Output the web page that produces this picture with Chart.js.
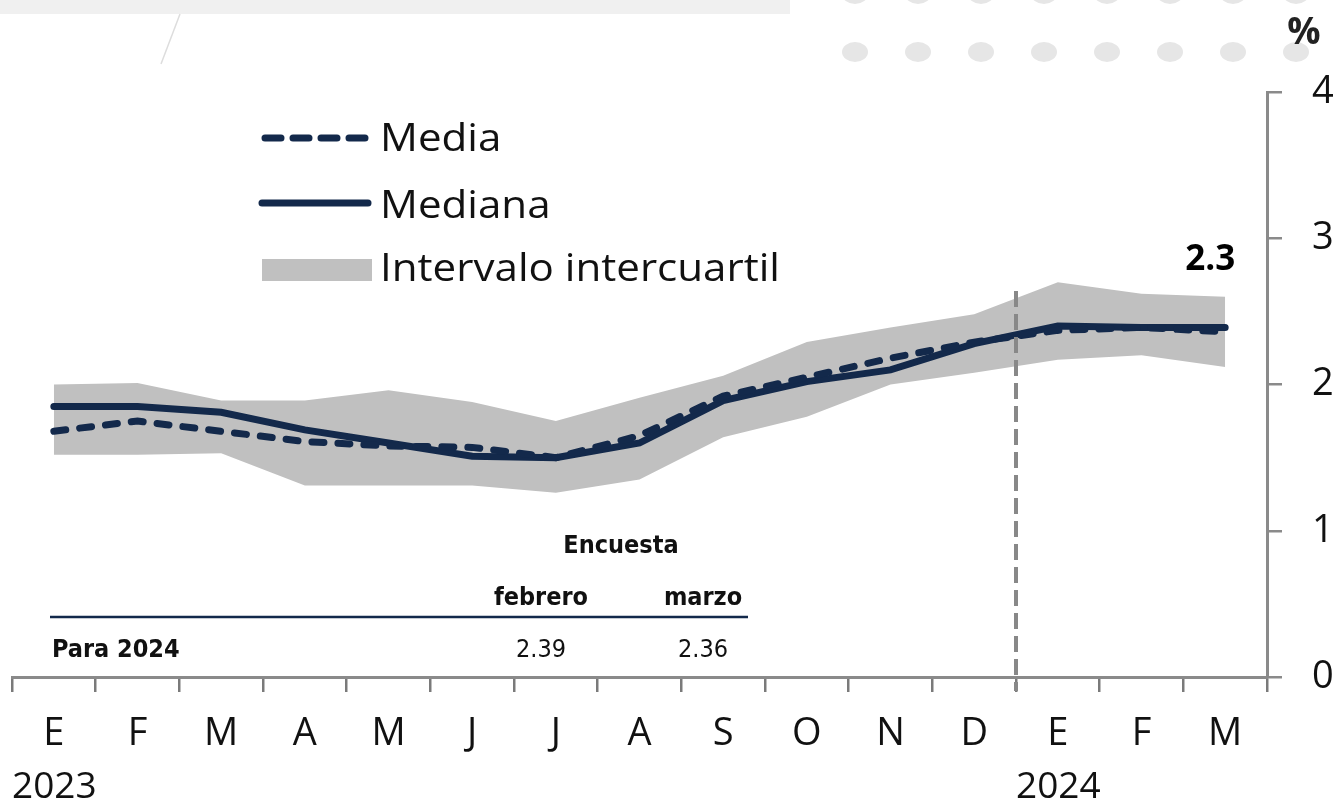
<!DOCTYPE html>
<html>
<head>
<meta charset="utf-8">
<script src="https://cdn.jsdelivr.net/npm/chart.js@4.4.1/dist/chart.umd.min.js"></script>
<style>
  html, body { margin: 0; padding: 0; background: #fff; }
  #wrap { position: relative; width: 1337px; height: 802px; }
</style>
</head>
<body>
<div id="wrap"><canvas id="grafico" width="1337" height="802"></canvas></div>
<script>
// Datos
const meses = ['E', 'F', 'M', 'A', 'M', 'J', 'J', 'A', 'S', 'O', 'N', 'D', 'E', 'F', 'M'];
const anios = ['2023', '2024'];
const inicioAnios = [0, 12]; // índice del mes donde empieza cada año
const media = [1.68, 1.75, 1.68, 1.61, 1.58, 1.57, 1.50, 1.65, 1.92, 2.05, 2.18, 2.29, 2.37, 2.39, 2.36];
const mediana = [1.85, 1.85, 1.81, 1.69, 1.60, 1.51, 1.50, 1.60, 1.89, 2.02, 2.10, 2.28, 2.40, 2.39, 2.39];
const cuartilSup = [2.00, 2.01, 1.89, 1.89, 1.96, 1.88, 1.75, 1.91, 2.06, 2.29, 2.39, 2.48, 2.70, 2.62, 2.60];
const cuartilInf = [1.52, 1.52, 1.53, 1.31, 1.31, 1.31, 1.26, 1.35, 1.64, 1.78, 2.00, 2.08, 2.17, 2.20, 2.12];
const yTicks = [0, 1, 2, 3, 4];
const encuestaMeses = ['febrero', 'marzo'];
const para2024 = ['2.39', '2.36'];
const ultimoDato = '2.3';

const azul = '#13294b';
const gris = '#c0c0c0';
const ejeColor = '#8a8a8a';
const fuente = '"Open Sans", Lato, sans-serif';
const fuenteTabla = '"Liberation Sans Narrow", "DejaVu Sans Condensed", sans-serif';

// Decoración de fondo (barra, línea diagonal, puntos)
const decoracion = {
    id: 'decoracion',
    beforeDraw(chart) {
        const ctx = chart.ctx;
        ctx.save();
        ctx.fillStyle = '#f0f0f0';
        ctx.fillRect(0, 0, 790, 14);
        ctx.strokeStyle = '#dddddd';
        ctx.lineWidth = 1.5;
        ctx.beginPath();
        ctx.moveTo(180, 14);
        ctx.lineTo(161, 64);
        ctx.stroke();
        ctx.fillStyle = '#e6e6e6';
        for (let i = 0; i < 8; i++) {
            const x = 855 + i * 63;
            ctx.beginPath();
            ctx.ellipse(x, 52, 13, 10, 0, 0, Math.PI * 2);
            ctx.fill();
            ctx.beginPath();
            ctx.ellipse(x, -6, 13, 10, 0, 0, Math.PI * 2);
            ctx.fill();
        }
        ctx.restore();
    }
};

// texto estirado en horizontal, como en el original
function textoAncho(ctx, txt, x, y, sx) {
    ctx.save();
    ctx.translate(x, y);
    ctx.scale(sx, 1);
    ctx.fillText(txt, 0, 0);
    ctx.restore();
}

// Línea vertical punteada, leyenda, tabla y textos
const extras = {
    id: 'extras',
    afterDraw(chart) {
        const ctx = chart.ctx;
        const xs = chart.scales.x;
        const ys = chart.scales.y;
        const area = chart.chartArea;
        ctx.save();

        // línea vertical entre diciembre y enero
        const xDiv = xs.getPixelForValue(11.5);
        ctx.setLineDash([16, 7]);
        ctx.lineWidth = 4;
        ctx.strokeStyle = '#888888';
        ctx.beginPath();
        ctx.moveTo(xDiv, ys.getPixelForValue(2.64));
        ctx.lineTo(xDiv, area.bottom + 14);
        ctx.stroke();
        ctx.setLineDash([]);

        // años
        ctx.fillStyle = '#111';
        ctx.font = '37px ' + fuente;
        ctx.textAlign = 'left';
        ctx.textBaseline = 'alphabetic';
        anios.forEach((a, i) => {
            const x = xs.getPixelForValue(inicioAnios[i] - 0.5);
            ctx.fillText(a, x, 798);
        });

        // %
        ctx.font = 'bold 37px ' + fuente;
        ctx.textAlign = 'center';
        ctx.fillStyle = '#222';
        ctx.fillText('%', 1304, 44);

        // último dato
        ctx.font = 'bold 35px ' + fuente;
        ctx.fillStyle = '#000';
        ctx.fillText(ultimoDato, xs.getPixelForValue(14) - 15, 270);

        // leyenda
        const lx1 = 262, lx2 = 368;
        ctx.lineCap = 'round';
        ctx.strokeStyle = azul;
        ctx.lineWidth = 7;
        ctx.setLineDash([16, 12]);
        ctx.beginPath();
        ctx.moveTo(lx1 + 3, 138);
        ctx.lineTo(lx2, 138);
        ctx.stroke();
        ctx.setLineDash([]);
        ctx.beginPath();
        ctx.moveTo(lx1, 203);
        ctx.lineTo(lx2, 203);
        ctx.stroke();
        ctx.fillStyle = gris;
        ctx.fillRect(lx1, 259, lx2 - lx1 + 4, 22);
        ctx.fillStyle = '#111';
        ctx.font = '38px ' + fuente;
        ctx.textAlign = 'left';
        const sx = 400 / ctx.measureText('Intervalo intercuartil').width;
        textoAncho(ctx, 'Media', 380, 151, sx);
        textoAncho(ctx, 'Mediana', 380, 218, sx);
        textoAncho(ctx, 'Intervalo intercuartil', 380, 281, sx);

        // tabla de la encuesta
        const colX = [541, 703];
        ctx.font = 'bold 25px ' + fuenteTabla;
        ctx.textAlign = 'center';
        ctx.fillText('Encuesta', 621, 553);
        encuestaMeses.forEach((m, i) => ctx.fillText(m, colX[i], 605));
        ctx.strokeStyle = azul;
        ctx.lineWidth = 2.5;
        ctx.lineCap = 'butt';
        ctx.beginPath();
        ctx.moveTo(50, 617);
        ctx.lineTo(748, 617);
        ctx.stroke();
        ctx.textAlign = 'left';
        ctx.fillText('Para 2024', 52, 657);
        ctx.font = '25px ' + fuenteTabla;
        ctx.textAlign = 'center';
        para2024.forEach((v, i) => ctx.fillText(v, colX[i], 657));

        ctx.restore();
    }
};

const ctx = document.getElementById('grafico').getContext('2d');
new Chart(ctx, {
    type: 'line',
    data: {
        labels: meses,
        datasets: [
            {
                label: 'Media',
                data: media,
                borderColor: azul,
                borderWidth: 7,
                borderDash: [12, 14],
                borderCapStyle: 'round',
                pointRadius: 0,
                tension: 0,
                fill: false
            },
            {
                label: 'Mediana',
                data: mediana,
                borderColor: azul,
                borderWidth: 7,
                borderCapStyle: 'round',
                pointRadius: 0,
                tension: 0,
                fill: false
            },
            {
                label: 'Intervalo intercuartil',
                data: cuartilSup,
                borderWidth: 0,
                borderColor: 'rgba(0,0,0,0)',
                backgroundColor: gris,
                pointRadius: 0,
                tension: 0,
                fill: '+1'
            },
            {
                label: 'Cuartil inferior',
                data: cuartilInf,
                borderWidth: 0,
                borderColor: 'rgba(0,0,0,0)',
                pointRadius: 0,
                tension: 0,
                fill: false
            }
        ]
    },
    options: {
        responsive: false,
        animation: false,
        devicePixelRatio: 1,
        layout: { padding: { top: 92, left: 12, right: 0, bottom: 0 } },
        plugins: { legend: { display: false }, tooltip: { enabled: false } },
        scales: {
            x: {
                offset: true,
                grid: {
                    offset: true,
                    drawOnChartArea: false,
                    drawTicks: true,
                    tickLength: 15,
                    color: '#7a7a7a',
                    lineWidth: 2.5
                },
                border: { color: ejeColor, width: 3 },
                ticks: {
                    color: '#111',
                    font: { family: fuente, size: 38 },
                    padding: 19,
                    maxRotation: 0,
                    autoSkip: false
                },
                afterFit(scale) { scale.height = 125; }
            },
            y: {
                position: 'right',
                min: 0,
                max: 4,
                afterBuildTicks(scale) { scale.ticks = yTicks.map(v => ({ value: v })); },
                grid: {
                    drawOnChartArea: false,
                    drawTicks: true,
                    tickLength: 15,
                    color: ejeColor,
                    lineWidth: 2.5
                },
                border: { color: ejeColor, width: 3 },
                ticks: {
                    color: '#111',
                    font: { family: fuente, size: 38 },
                    padding: 30
                },
                afterFit(scale) { scale.width = 70; }
            }
        }
    },
    plugins: [decoracion, extras]
});
</script>
</body>
</html>
